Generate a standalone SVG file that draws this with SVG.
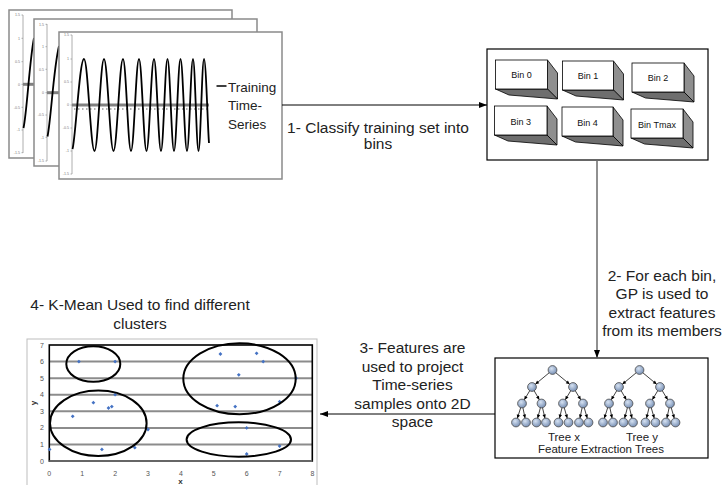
<svg xmlns="http://www.w3.org/2000/svg" xmlns:xlink="http://www.w3.org/1999/xlink" width="725" height="485" viewBox="0 0 725 485">
<defs>
<style>
.lbl{font-family:"Liberation Sans",Arial,sans-serif;font-size:15.5px;fill:#222;text-anchor:middle}
.leg{font-family:"Liberation Sans",Arial,sans-serif;font-size:13.5px;fill:#222}
.tiny{font-family:"Liberation Sans",Arial,sans-serif;font-size:3.6px;fill:#777;text-anchor:end}
.chart{fill:#fff;stroke:#8a8a8a;stroke-width:1.5}
.axis{stroke:#999;stroke-width:0.8;fill:none}
.zero{stroke:#808080;stroke-width:3}
.wave{fill:none;stroke:#000;stroke-width:1.8}
.front{fill:#fff;stroke:#000;stroke-width:0.8}
.side{fill:#8f8f8f;stroke:#000;stroke-width:0.8}
.bot{fill:#6e6e6e;stroke:#000;stroke-width:0.8}
.bintxt{font-family:"Liberation Sans",Arial,sans-serif;font-size:9px;fill:#111;text-anchor:middle}
.box{fill:#fff;stroke:#000;stroke-width:1.2}
.tedge{stroke:#111;stroke-width:0.8;fill:none;marker-end:url(#tarr)}
.tnode{fill:url(#ng);stroke:#4a4a4a;stroke-width:0.8}
.ttxt{font-family:"Liberation Sans",Arial,sans-serif;font-size:11.5px;fill:#222;text-anchor:middle}
.conn{stroke:#000;stroke-width:1;fill:none;marker-end:url(#arr)}
.grid{stroke:#8c8c8c;stroke-width:2}
.ax{font-family:"Liberation Sans",Arial,sans-serif;font-size:7px;fill:#555}
.axb{font-family:"Liberation Sans",Arial,sans-serif;font-size:8px;font-weight:bold;fill:#333;text-anchor:middle}
.ell{fill:none;stroke:#000;stroke-width:2}
.pt{fill:#4472c4}
</style>
<radialGradient id="ng" cx="40%" cy="35%" r="65%">
<stop offset="0" stop-color="#d6e2f2"/>
<stop offset="1" stop-color="#7890b5"/>
</radialGradient>
<marker id="arr" markerUnits="userSpaceOnUse" orient="auto" refX="8" refY="0" overflow="visible">
<path d="M0,-3 L8,0 L0,3 z" fill="#000"/>
</marker>
<marker id="tarr" markerUnits="userSpaceOnUse" orient="auto" refX="8" refY="0" overflow="visible">
<path d="M0,-1.7 L3.6,0 L0,1.7 z" fill="#000"/>
</marker>
<path id="dm" d="M0,-1.9 L1.9,0 L0,1.9 L-1.9,0 z"/>
<g id="tree">
<path class="tedge" d="M552.5,370 L532,387"/>
<path class="tedge" d="M552.5,370 L573,387"/>
<path class="tedge" d="M532,387 L522,403.5"/>
<path class="tedge" d="M532,387 L541.5,403.5"/>
<path class="tedge" d="M573,387 L563,403.5"/>
<path class="tedge" d="M573,387 L583,403.5"/>
<path class="tedge" d="M522,403.5 L516,422.5"/>
<path class="tedge" d="M522,403.5 L526,422.5"/>
<path class="tedge" d="M541.5,403.5 L536.5,422.5"/>
<path class="tedge" d="M541.5,403.5 L546,422.5"/>
<path class="tedge" d="M563,403.5 L558.5,422.5"/>
<path class="tedge" d="M563,403.5 L568.5,422.5"/>
<path class="tedge" d="M583,403.5 L579,422.5"/>
<path class="tedge" d="M583,403.5 L588.5,422.5"/>
<circle class="tnode" cx="552.5" cy="370" r="4.4"/>
<circle class="tnode" cx="532" cy="387" r="4.4"/>
<circle class="tnode" cx="573" cy="387" r="4.4"/>
<circle class="tnode" cx="522" cy="403.5" r="4.4"/>
<circle class="tnode" cx="541.5" cy="403.5" r="4.4"/>
<circle class="tnode" cx="563" cy="403.5" r="4.4"/>
<circle class="tnode" cx="583" cy="403.5" r="4.4"/>
<circle class="tnode" cx="516" cy="422.5" r="4.4"/>
<circle class="tnode" cx="526" cy="422.5" r="4.4"/>
<circle class="tnode" cx="536.5" cy="422.5" r="4.4"/>
<circle class="tnode" cx="546" cy="422.5" r="4.4"/>
<circle class="tnode" cx="558.5" cy="422.5" r="4.4"/>
<circle class="tnode" cx="568.5" cy="422.5" r="4.4"/>
<circle class="tnode" cx="579" cy="422.5" r="4.4"/>
<circle class="tnode" cx="588.5" cy="422.5" r="4.4"/>
</g>
</defs>

<rect width="725" height="485" fill="#fff"/>

<!-- Time-series stack -->
<g id="timeseries">
<g id="chart-back">
<rect class="chart" x="9" y="10" width="223" height="148"/>
<path class="axis" d="M23,15 V153 M21.5,15 H23 M21.5,38.3 H23 M21.5,61.7 H23 M21.5,84.3 H23 M21.5,107.3 H23 M21.5,130 H23 M21.5,152.7 H23"/>
<text class="tiny" x="20" y="16.2">1.5</text>
<text class="tiny" x="20" y="39.5">1</text>
<text class="tiny" x="20" y="62.9">0.5</text>
<text class="tiny" x="20" y="85.5">0</text>
<text class="tiny" x="20" y="108.5">-0.5</text>
<text class="tiny" x="20" y="131.2">-1</text>
<text class="tiny" x="20" y="153.9">-1.5</text>
<line class="zero" x1="23" y1="84.3" x2="34" y2="84.3"/>
<path class="wave" d="M23.5,128 C27,112 29.5,60 34,38"/>
</g>
<g id="chart-mid">
<rect class="chart" x="34" y="19" width="223" height="147"/>
<path class="axis" d="M47,24 V161 M45.5,24.3 H47 M45.5,46.7 H47 M45.5,69.3 H47 M45.5,92.7 H47 M45.5,115 H47 M45.5,137.3 H47 M45.5,161 H47"/>
<text class="tiny" x="44" y="25.5">1.5</text>
<text class="tiny" x="44" y="47.9">1</text>
<text class="tiny" x="44" y="70.5">0.5</text>
<text class="tiny" x="44" y="93.9">0</text>
<text class="tiny" x="44" y="116.2">-0.5</text>
<text class="tiny" x="44" y="138.5">-1</text>
<text class="tiny" x="44" y="162.2">-1.5</text>
<line class="zero" x1="47" y1="92.7" x2="59" y2="92.7"/>
<path class="wave" d="M47.5,136.5 C51,120 53.5,68 59,46"/>
</g>
<g id="chart-front">
<rect class="chart" x="59" y="32" width="223" height="147"/>
<path class="axis" d="M72,35 V174 M70.5,35 H72 M70.5,59 H72 M70.5,82 H72 M70.5,105 H72 M70.5,128 H72 M70.5,151 H72 M70.5,174 H72"/>
<text class="tiny" x="69" y="36.2">1.5</text>
<text class="tiny" x="69" y="60.2">1</text>
<text class="tiny" x="69" y="83.2">0.5</text>
<text class="tiny" x="69" y="106.2">0</text>
<text class="tiny" x="69" y="129.2">-0.5</text>
<text class="tiny" x="69" y="152.2">-1</text>
<text class="tiny" x="69" y="175.2">-1.5</text>
<line class="zero" x1="72" y1="105" x2="209" y2="105"/>
<line x1="74" y1="109" x2="209" y2="109" stroke="#b0b0b0" stroke-width="2" stroke-dasharray="1.5 2.5"/>
<path class="wave" d="M72.5,149 C75.5,140 79.5,59 84,59 C87.9,59 90.6,151 94.5,151 C98,151 100.5,59 104,59 C107.5,59 110,151 113.5,151 C117,151 119.5,59 123,59 C126,59 128,151 131,151 C134,151 136,59 139,59 C141.8,59 143.7,151 146.5,151 C149.3,151 151.2,59 154,59 C156.6,59 158.4,151 161,151 C163.4,151 165.1,59 167.5,59 C169.9,59 171.6,151 174,151 C176.4,151 178.1,59 180.5,59 C182.9,59 184.6,151 187,151 C189.2,151 190.8,59 193,59 C195,59 196.5,151 198.5,151 C200.5,151 202,59 204,59 C206,59 207.8,130 209,143"/>
<line x1="216.5" y1="86" x2="226.5" y2="86" stroke="#000" stroke-width="1.5"/>
<text class="leg" x="228" y="91.5">Training</text>
<text class="leg" x="228" y="110">Time-</text>
<text class="leg" x="228" y="128.5">Series</text>
</g>
</g>

<!-- Bins -->
<g id="bins">
<rect class="box" x="487" y="49" width="221" height="111"/>
<g id="bin0">
<polygon class="side" points="547.5,60 557.5,73 557.5,99 547.5,89"/>
<polygon class="bot" points="495.5,89 547.5,89 557.5,99 509,95"/>
<rect class="front" x="495.5" y="60" width="52" height="29"/>
<text class="bintxt" x="521.5" y="78">Bin 0</text>
</g>
<g id="bin1">
<polygon class="side" points="613.5,61 623.5,74 623.5,100 613.5,90"/>
<polygon class="bot" points="562.5,90 613.5,90 623.5,100 576,96"/>
<rect class="front" x="562.5" y="61" width="51" height="29"/>
<text class="bintxt" x="588" y="79">Bin 1</text>
</g>
<g id="bin2">
<polygon class="side" points="684,63 694,76 694,102 684,92"/>
<polygon class="bot" points="632,92 684,92 694,102 645.5,98"/>
<rect class="front" x="632" y="63" width="52" height="29"/>
<text class="bintxt" x="658" y="81">Bin 2</text>
</g>
<g id="bin3">
<polygon class="side" points="547,106 557,119 557,145 547,135"/>
<polygon class="bot" points="494.5,135 547,135 557,145 508,141"/>
<rect class="front" x="494.5" y="106" width="52.5" height="29"/>
<text class="bintxt" x="520.7" y="124.5">Bin 3</text>
</g>
<g id="bin4">
<polygon class="side" points="613,107 623,120 623,146 613,136"/>
<polygon class="bot" points="562,136 613,136 623,146 575.5,142"/>
<rect class="front" x="562" y="107" width="51" height="29"/>
<text class="bintxt" x="587.5" y="125.5">Bin 4</text>
</g>
<g id="binTmax">
<polygon class="side" points="683,109 693,122 693,148 683,138"/>
<polygon class="bot" points="631,138 683,138 693,148 644.5,144"/>
<rect class="front" x="631" y="109" width="52" height="29"/>
<text class="bintxt" x="657" y="128">Bin Tmax</text>
</g>
</g>

<!-- Feature extraction trees -->
<g id="trees">
<rect class="box" x="495" y="358" width="213" height="100"/>
<use xlink:href="#tree"/>
<use xlink:href="#tree" transform="translate(87,0)"/>
<text class="ttxt" x="564" y="440.5">Tree x</text>
<text class="ttxt" x="642" y="440.5">Tree y</text>
<text class="ttxt" x="601" y="452.5">Feature Extraction Trees</text>
</g>

<!-- Scatter plot -->
<g id="scatter">
<rect x="27" y="339" width="290" height="150" fill="#fff" stroke="#bdbdbd" stroke-width="1"/>
<g>
<line class="grid" x1="49.3" y1="444.4" x2="312.3" y2="444.4"/>
<line class="grid" x1="49.3" y1="427.9" x2="312.3" y2="427.9"/>
<line class="grid" x1="49.3" y1="411.3" x2="312.3" y2="411.3"/>
<line class="grid" x1="49.3" y1="394.7" x2="312.3" y2="394.7"/>
<line class="grid" x1="49.3" y1="378.2" x2="312.3" y2="378.2"/>
<line class="grid" x1="49.3" y1="361.6" x2="312.3" y2="361.6"/>
</g>
<rect x="49.3" y="345" width="263" height="116" fill="none" stroke="#000" stroke-width="1.6"/>
<line x1="49.3" y1="461" x2="312.3" y2="461" stroke="#666" stroke-width="2"/>
<g class="ax" text-anchor="end">
<text x="44" y="463.5">0</text>
<text x="44" y="446.9">1</text>
<text x="44" y="430.4">2</text>
<text x="44" y="413.8">3</text>
<text x="44" y="397.2">4</text>
<text x="44" y="380.7">5</text>
<text x="44" y="364.1">6</text>
<text x="44" y="347.5">7</text>
</g>
<g class="ax" text-anchor="middle">
<text x="49.3" y="476">0</text>
<text x="82.2" y="476">1</text>
<text x="115.1" y="476">2</text>
<text x="148" y="476">3</text>
<text x="180.9" y="476">4</text>
<text x="213.8" y="476">5</text>
<text x="246.7" y="476">6</text>
<text x="279.6" y="476">7</text>
<text x="312.5" y="476">8</text>
</g>
<text class="axb" x="180.5" y="484">x</text>
<text class="axb" transform="translate(36,403) rotate(-90)">y</text>
<g class="pt">
<use xlink:href="#dm" x="78.9" y="361.6"/>
<use xlink:href="#dm" x="115.1" y="361.6"/>
<use xlink:href="#dm" x="49.6" y="449.4"/>
<use xlink:href="#dm" x="72.7" y="416.3"/>
<use xlink:href="#dm" x="93.4" y="402.7"/>
<use xlink:href="#dm" x="108.5" y="408"/>
<use xlink:href="#dm" x="111.8" y="406.6"/>
<use xlink:href="#dm" x="115.1" y="394.7"/>
<use xlink:href="#dm" x="101.9" y="449.4"/>
<use xlink:href="#dm" x="134.8" y="447.7"/>
<use xlink:href="#dm" x="148" y="429.5"/>
<use xlink:href="#dm" x="220.4" y="354"/>
<use xlink:href="#dm" x="256.6" y="353.3"/>
<use xlink:href="#dm" x="263.2" y="361.6"/>
<use xlink:href="#dm" x="238.8" y="374.8"/>
<use xlink:href="#dm" x="296.1" y="378.2"/>
<use xlink:href="#dm" x="217.1" y="405.7"/>
<use xlink:href="#dm" x="235.2" y="406.6"/>
<use xlink:href="#dm" x="279.6" y="401.7"/>
<use xlink:href="#dm" x="246.7" y="427.9"/>
<use xlink:href="#dm" x="279.6" y="446.1"/>
<use xlink:href="#dm" x="246.7" y="454"/>
</g>
<ellipse class="ell" cx="93.3" cy="364" rx="27" ry="17.8"/>
<ellipse class="ell" cx="98.3" cy="423.3" rx="48.3" ry="32.7"/>
<ellipse class="ell" cx="239.5" cy="378.8" rx="56.2" ry="35.5"/>
<ellipse class="ell" cx="238.8" cy="439.5" rx="52.2" ry="17.2"/>
</g>

<!-- Connectors and their labels -->
<g id="connectors">
<line class="conn" x1="282" y1="105" x2="487" y2="105"/>
<text class="lbl" x="378" y="132.5">1- Classify training set into</text>
<text class="lbl" x="378" y="149">bins</text>

<line class="conn" x1="597" y1="160" x2="597" y2="358" style="stroke:#6b6b6b;stroke-width:1.5"/>
<text class="lbl" x="662" y="280.5">2- For each bin,</text>
<text class="lbl" x="662" y="299">GP is used to</text>
<text class="lbl" x="662" y="317.5">extract features</text>
<text class="lbl" x="662" y="336">from its members</text>

<line class="conn" x1="495" y1="414" x2="320" y2="414"/>
<text class="lbl" x="412.5" y="353">3- Features are</text>
<text class="lbl" x="412.5" y="371.5">used to project</text>
<text class="lbl" x="412.5" y="390">Time-series</text>
<text class="lbl" x="412.5" y="408.5">samples onto 2D</text>
<text class="lbl" x="412.5" y="427">space</text>

<text class="lbl" x="140" y="310">4- K-Mean Used to find different</text>
<text class="lbl" x="140" y="329">clusters</text>
</g>
</svg>
